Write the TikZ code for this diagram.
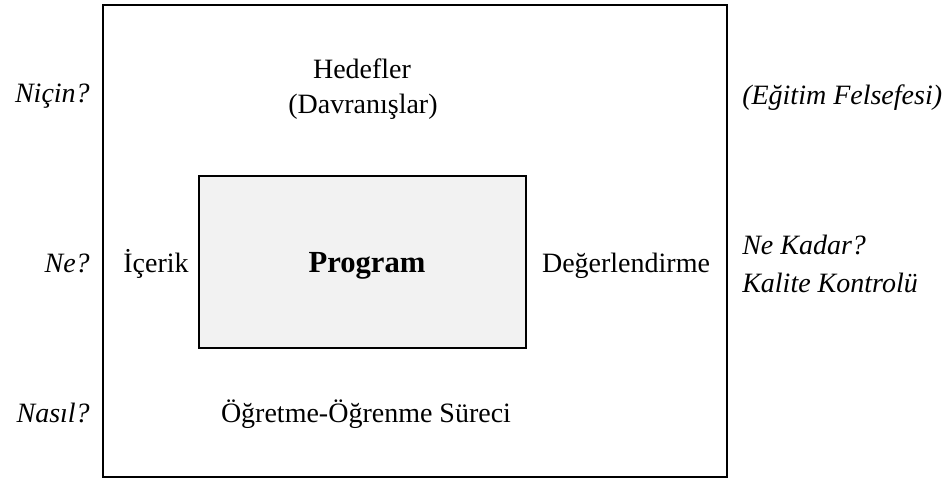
\documentclass[tikz,border=0pt]{standalone}
\usepackage{fontspec}
\setmainfont{Liberation Serif}
\begin{document}
\begin{tikzpicture}[x=0.75pt,y=-0.75pt,
  frame/.style={draw=black,line width=1.3pt},
  lbl/.style={inner sep=0pt,font=\fontsize{21}{25}\selectfont},
  qlbl/.style={inner sep=0pt,font=\fontsize{21}{25}\selectfont\itshape},
  prog/.style={inner sep=0pt,font=\fontsize{23}{27}\selectfont\bfseries}]
\useasboundingbox (0,0) rectangle (946,480);
\draw[frame] (103,5) rectangle (727,477);
\draw[frame,fill={rgb,255:red,242;green,242;blue,242}] (199,176) rectangle (526,348);
\node[prog,anchor=base] (program) at (367,272) {Program};
\node[lbl,anchor=base] (hedef) at (362,78) {Hedefler};
\node[lbl,anchor=base] (davr) at (363,113) {(Davranışlar)};
\node[lbl,anchor=base] (icerik) at (156,272) {İçerik};
\node[lbl,anchor=base] (deger) at (626,272) {Değerlendirme};
\node[lbl,anchor=base] (surec) at (366,422) {Öğretme-Öğrenme Süreci};
\node[qlbl,anchor=base east] (nicin) at (90,102) {Niçin?};
\node[qlbl,anchor=base east] (ne) at (90,272) {Ne?};
\node[qlbl,anchor=base east] (nasil) at (90,422) {Nasıl?};
\node[qlbl,anchor=base west] (felsefe) at (742,104) {(Eğitim Felsefesi)};
\node[qlbl,anchor=base west] (kadar) at (742,254) {Ne Kadar?};
\node[qlbl,anchor=base west] (kalite) at (742,292) {Kalite Kontrolü};
\end{tikzpicture}
\end{document}
